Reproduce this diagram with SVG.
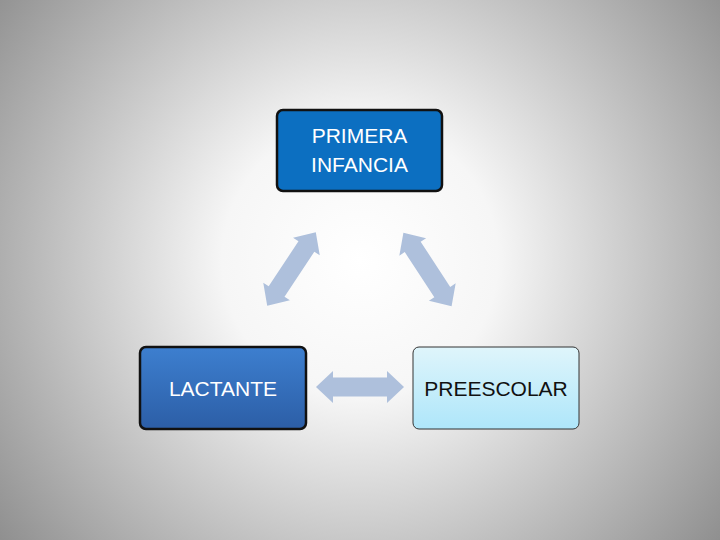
<svg xmlns="http://www.w3.org/2000/svg" width="720" height="540" viewBox="0 0 720 540">
<defs>
<radialGradient id="bg" cx="360" cy="260" r="460" gradientUnits="userSpaceOnUse">
<stop offset="0" stop-color="#ffffff"/>
<stop offset="0.3" stop-color="#f6f6f6"/>
<stop offset="1" stop-color="#8e8e8e"/>
</radialGradient>
<linearGradient id="gLact" x1="0" y1="0" x2="0" y2="1">
<stop offset="0" stop-color="#3d7fcf"/>
<stop offset="1" stop-color="#2c5ea6"/>
</linearGradient>
<linearGradient id="gPre" x1="0" y1="0" x2="0" y2="1">
<stop offset="0" stop-color="#dff5fb"/>
<stop offset="1" stop-color="#aee6fa"/>
</linearGradient>
<path id="arr" d="M-44,0 L-27,-16 L-27,-9.5 L27,-9.5 L27,-16 L44,0 L27,16 L27,9.5 L-27,9.5 L-27,16 Z"/>
</defs>
<style>
.lbl{font-family:"Liberation Sans",Arial,sans-serif;font-size:21px;text-anchor:middle}
.arrow{fill:#aec0dc}
</style>
<rect width="720" height="540" fill="url(#bg)"/>
<g id="connectors">
<use href="#arr" class="arrow" transform="translate(291.5,269) rotate(-56.5)"/>
<use href="#arr" class="arrow" transform="translate(427.5,269.5) rotate(56.8)"/>
<use href="#arr" class="arrow" transform="translate(360,387)"/>
</g>
<g id="primera">
<rect x="277" y="110" width="165" height="81" rx="6" fill="#0c6fc1" stroke="#111" stroke-width="2.5"/>
<text class="lbl" x="359.5" y="143" fill="#fff">PRIMERA</text>
<text class="lbl" x="359.5" y="172" fill="#fff">INFANCIA</text>
</g>
<g id="lactante">
<rect x="140" y="347" width="166" height="82" rx="6" fill="url(#gLact)" stroke="#111" stroke-width="2.5"/>
<text class="lbl" x="223" y="396" fill="#fff">LACTANTE</text>
</g>
<g id="preescolar">
<rect x="413" y="347" width="166" height="82" rx="6" fill="url(#gPre)" stroke="#333" stroke-width="1"/>
<text class="lbl" x="496" y="396" fill="#111">PREESCOLAR</text>
</g>
</svg>
